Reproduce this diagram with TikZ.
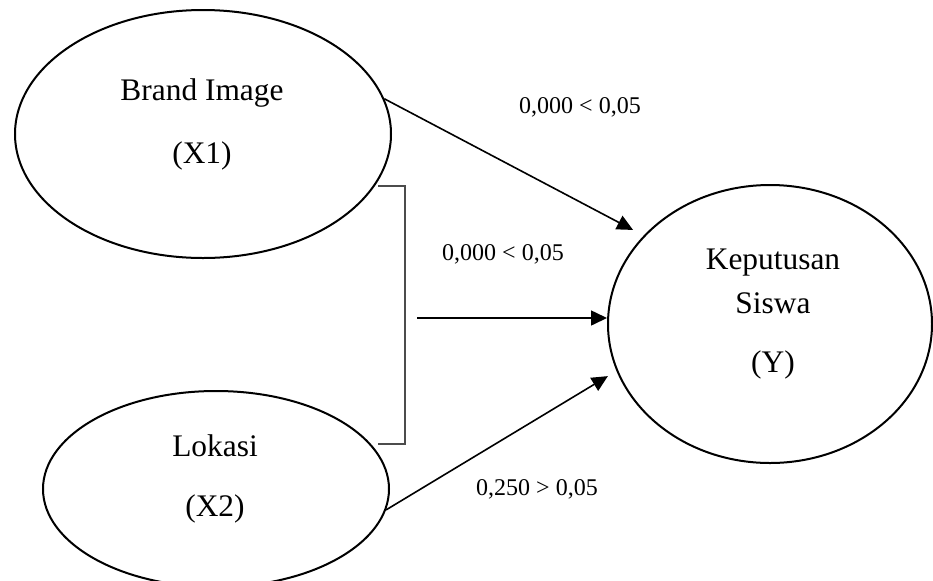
\documentclass[tikz,border=0pt]{standalone}
\usepackage{fontspec}
\setmainfont{Liberation Serif}
\usetikzlibrary{shapes.geometric,arrows.meta}
\tikzset{
  oval/.style={ellipse,draw=black,line width=1pt,inner sep=0pt},
  txt/.style={font=\fontsize{15.7}{18}\selectfont,inner sep=0pt},
  val/.style={font=\fontsize{12}{14}\selectfont,inner sep=0pt},
  arr/.style={line width=0.8pt,-{Triangle[length=8pt,width=7.5pt]}}
}
\begin{document}
\begin{tikzpicture}[x=0.5pt,y=-0.5pt]
\useasboundingbox (0,0) rectangle (933,580);
\node[oval,minimum width=188pt,minimum height=124pt] (X1) at (203,134) {};
\node[oval,minimum width=173pt,minimum height=98pt] (X2) at (216,489) {};
\node[oval,minimum width=162pt,minimum height=139pt] (Y) at (770,324) {};
\node[txt] (bi) at (202,93) {Brand Image};
\node[txt] (bx) at (202,156) {(X1)};
\node[txt] (lo) at (215,446) {Lokasi};
\node[txt] (lx) at (215,509) {(X2)};
\node[txt] (ke) at (773,263) {Keputusan};
\node[txt] (si) at (773,303) {Siswa};
\node[txt] (yy) at (773,365) {(Y)};
\coordinate (b1) at (378,186);
\coordinate (b2) at (405,186);
\coordinate (b3) at (405,444);
\coordinate (b4) at (378,444);
\coordinate (mid) at (417,318);
\draw[line width=0.6pt,draw=black!70] (b1) -- (b2) -- (b3) -- (b4);
\draw[arr,shorten >=6pt] (X1.11) -- (Y.145);
\draw[arr] (mid) -- (mid -| Y.west);
\draw[arr,shorten >=5pt] (X2.-7) -- (Y.197);
\node[val] (p1) at (580,107) {0,000 < 0,05};
\node[val] (p2) at (503,254) {0,000 < 0,05};
\node[val] (p3) at (537,489) {0,250 > 0,05};
\end{tikzpicture}
\end{document}
